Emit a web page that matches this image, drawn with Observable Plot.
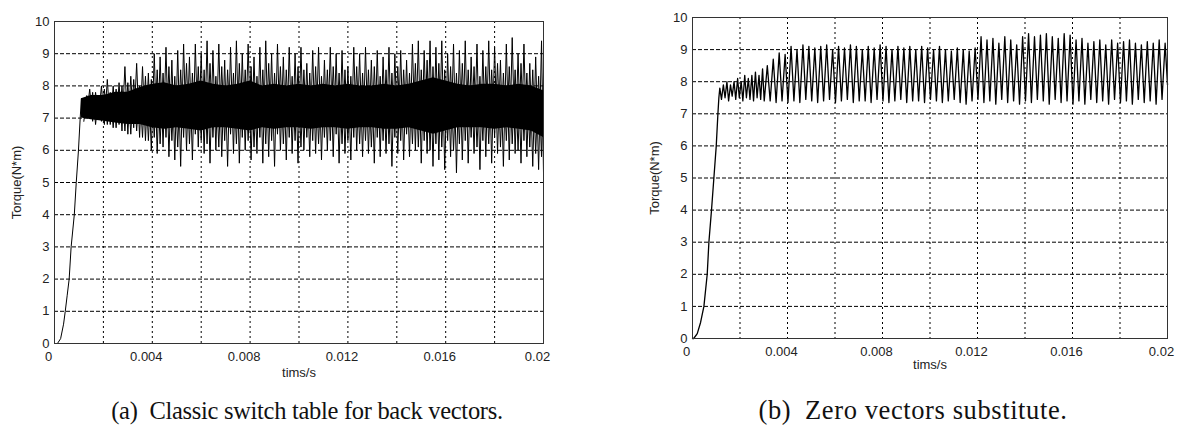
<!DOCTYPE html>
<html><head><meta charset="utf-8">
<script src="https://cdn.jsdelivr.net/npm/d3@7"></script>
<script src="https://cdn.jsdelivr.net/npm/@observablehq/plot@0.6"></script>
<style>
body{margin:0;background:#fff;}
#wrap{position:relative;width:1183px;height:426px;overflow:hidden;background:#fff}
.panel{position:absolute;top:0}
.cap{position:absolute;top:397px;line-height:27px;font-family:"Liberation Serif","Times New Roman",serif;color:#111;white-space:pre;transform:translateX(-50%)}
</style></head><body><div id="wrap"></div>
<script>
// ---- axes (time in ms, shown in s) ----
const xTicks = [0, 4, 8, 12, 16, 20];
const xGrid = [2, 4, 6, 8, 10, 12, 14, 16, 18];
const yTicks = [0, 1, 2, 3, 4, 5, 6, 7, 8, 9, 10];
const yGrid = [1, 2, 3, 4, 5, 6, 7, 8, 9];
const captions = ["(a)\u2002Classic switch table for back vectors.", "(b)\u2002Zero vectors substitute."];

// ---- panel (a): classic switch table ----
const riseTA = [0, 0.12, 0.25, 0.37, 0.44, 0.52, 0.60, 0.68, 0.81, 0.89, 0.98, 1.05, 1.10];
const riseVA = [0, 0, 0.15, 0.6, 1.0, 1.5, 2.0, 3.0, 4.0, 5.0, 6.0, 7.0, 7.6];
const tUpA = [1.20,1.44,1.68,1.92,2.16,2.40,2.64,2.88,3.12,3.36,3.60,3.84,4.08,4.32,4.56,4.80,5.04,5.28,5.52,5.76,6.00,6.24,6.48,6.72,6.96,7.20,7.44,7.68,7.92,8.16,8.40,8.64,8.88,9.12,9.36,9.60,9.84,10.08,10.32,10.56,10.80,11.04,11.28,11.52,11.76,12.00,12.24,12.48,12.72,12.96,13.20,13.44,13.68,13.92,14.16,14.40,14.64,14.88,15.12,15.36,15.60,15.84,16.08,16.32,16.56,16.80,17.04,17.28,17.52,17.76,18.00,18.24,18.48,18.72,18.96,19.20,19.44,19.68,19.92];
const hiA = [7.6,7.9,7.8,8.0,8.2,8.0,8.1,8.6,8.3,8.7,8.6,8.4,9.0,8.9,9.2,8.8,9.1,9.3,8.9,9.3,9.0,9.4,9.1,9.3,8.8,9.2,9.4,9.0,9.3,8.9,9.2,9.4,9.0,9.3,8.9,9.2,9.0,9.2,8.7,9.1,9.2,8.8,9.2,9.0,9.1,8.6,9.2,9.0,9.2,8.8,9.1,8.9,9.2,9.0,9.1,8.8,9.3,9.4,9.1,9.4,9.2,9.4,9.0,9.3,9.1,9.4,8.9,9.3,9.1,9.4,9.2,8.8,9.3,9.5,9.0,9.3,8.7,8.9,9.4];
const tDnA = [1.32,1.56,1.80,2.04,2.28,2.52,2.76,3.00,3.24,3.48,3.72,3.96,4.20,4.44,4.68,4.92,5.16,5.40,5.64,5.88,6.12,6.36,6.60,6.84,7.08,7.32,7.56,7.80,8.04,8.28,8.52,8.76,9.00,9.24,9.48,9.72,9.96,10.20,10.44,10.68,10.92,11.16,11.40,11.64,11.88,12.12,12.36,12.60,12.84,13.08,13.32,13.56,13.80,14.04,14.28,14.52,14.76,15.00,15.24,15.48,15.72,15.96,16.20,16.44,16.68,16.92,17.16,17.40,17.64,17.88,18.12,18.36,18.60,18.84,19.08,19.32,19.56,19.80,20.00];
const loA = [7.1,6.9,7.0,6.8,6.8,6.7,6.6,6.5,6.7,6.4,6.3,6.0,5.9,6.1,5.8,5.7,5.5,6.0,5.7,6.1,5.9,5.6,6.0,5.8,5.5,5.9,5.6,6.0,5.7,5.9,5.6,5.8,5.5,6.0,5.7,5.9,5.6,6.0,5.8,5.9,5.7,6.0,5.8,5.6,5.9,5.7,6.0,5.8,5.9,5.6,5.8,5.9,5.5,5.9,5.7,5.8,6.0,5.6,5.9,5.5,5.7,5.4,5.8,5.3,5.7,5.6,5.9,5.4,5.8,5.6,5.9,5.5,5.7,5.9,5.6,5.8,5.5,5.4,5.3];
// medium-amplitude teeth (up at tDnA times, down at tUpA times)
const hi2A = [7.7,7.8,7.7,7.9,7.8,7.9,8.0,8.1,8.2,8.0,8.3,8.2,8.5,8.4,8.6,8.3,8.5,8.7,8.4,8.6,8.5,8.7,8.3,8.6,8.5,8.4,8.7,8.5,8.6,8.3,8.5,8.7,8.4,8.6,8.5,8.3,8.6,8.5,8.4,8.6,8.3,8.5,8.6,8.4,8.5,8.3,8.6,8.4,8.5,8.6,8.3,8.5,8.4,8.6,8.5,8.4,8.7,8.5,8.8,8.6,8.7,8.5,8.6,8.4,8.7,8.5,8.6,8.3,8.6,8.5,8.7,8.4,8.6,8.5,8.7,8.4,8.5,8.3,8.4];
const lo2A = [6.9,7.0,6.8,6.9,6.8,6.7,6.8,6.6,6.5,6.6,6.4,6.3,6.4,6.2,6.4,6.3,6.1,6.4,6.2,6.5,6.3,6.2,6.4,6.1,6.3,6.5,6.2,6.4,6.3,6.1,6.4,6.2,6.3,6.5,6.2,6.4,6.3,6.1,6.4,6.3,6.2,6.4,6.3,6.5,6.2,6.3,6.4,6.2,6.3,6.1,6.4,6.3,6.2,6.4,6.3,6.5,6.2,6.1,6.3,6.0,6.2,6.1,6.3,6.0,6.2,6.3,6.4,6.1,6.3,6.2,6.4,6.1,6.3,6.2,6.0,6.3,6.1,5.9,5.8];
const coreTA = [1.1,1.5,2,2.5,3,3.5,4,4.5,5,5.5,6,6.5,7,7.5,8,8.5,9,9.5,10,10.5,11,11.5,12,12.5,13,13.5,14,14.5,15,15.5,16,16.5,17,17.5,18,18.5,19,19.5,20];
const coreHiA = [7.6,7.7,7.7,7.8,7.8,7.95,8.05,8.1,8.0,8.05,8.15,8.05,8.0,8.05,8.15,8.0,8.05,8.0,8.05,8.0,8.05,8.0,8.05,8.0,8.0,8.05,8.0,8.05,8.15,8.25,8.15,8.05,8.0,8.05,8.05,8.0,8.05,8.0,7.85];
const coreLoA = [7.0,6.95,6.9,6.85,6.8,6.8,6.7,6.65,6.7,6.65,6.6,6.7,6.7,6.65,6.6,6.7,6.65,6.7,6.7,6.65,6.7,6.7,6.65,6.7,6.7,6.65,6.65,6.7,6.6,6.5,6.6,6.7,6.7,6.7,6.65,6.7,6.65,6.6,6.4];

// ---- panel (b): zero vectors substitute ----
const riseTB = [0, 0.05, 0.20, 0.34, 0.48, 0.62, 0.69, 0.80, 0.90, 1.00, 1.07, 1.11];
const riseVB = [0, 0, 0.15, 0.5, 1.0, 2.0, 3.0, 4.0, 5.0, 6.0, 7.0, 7.5];
const tUpB = [1.15,1.30,1.45,1.60,1.75,1.90,2.05,2.20,2.35,2.50,2.65,2.80,2.95,3.15,3.40,3.65,3.90,4.15,4.40,4.65,4.90,5.15,5.40,5.65,5.90,6.15,6.40,6.65,6.90,7.15,7.40,7.65,7.90,8.15,8.40,8.65,8.90,9.15,9.40,9.65,9.90,10.15,10.40,10.65,10.90,11.15,11.40,11.65,11.90,12.15,12.40,12.65,12.90,13.15,13.40,13.65,13.90,14.15,14.40,14.65,14.90,15.15,15.40,15.65,15.90,16.15,16.40,16.65,16.90,17.15,17.40,17.65,17.90,18.15,18.40,18.65,18.90,19.15,19.40,19.65,19.90];
const hiB = [7.8,7.9,8.0,7.9,8.0,8.1,8.0,8.2,8.1,8.2,8.3,8.2,8.4,8.5,8.7,8.9,8.85,9.1,9.0,9.15,9.1,9.05,9.1,9.15,9.0,9.1,9.05,9.15,9.1,9.0,9.1,9.05,9.15,9.1,9.0,9.1,9.05,9.1,9.0,9.1,9.05,9.0,9.1,9.0,8.95,9.05,9.0,8.95,9.05,9.4,9.3,9.35,9.2,9.4,9.3,9.15,9.4,9.5,9.4,9.45,9.5,9.4,9.35,9.5,9.45,9.3,9.35,9.2,9.25,9.3,9.15,9.3,9.2,9.25,9.3,9.2,9.15,9.25,9.2,9.3,9.2];
const tDnB = [1.22,1.37,1.52,1.67,1.82,1.97,2.12,2.27,2.42,2.57,2.72,2.87,3.02,3.27,3.52,3.77,4.02,4.27,4.52,4.77,5.02,5.27,5.52,5.77,6.02,6.27,6.52,6.77,7.02,7.27,7.52,7.77,8.02,8.27,8.52,8.77,9.02,9.27,9.52,9.77,10.02,10.27,10.52,10.77,11.02,11.27,11.52,11.77,12.02,12.27,12.52,12.77,13.02,13.27,13.52,13.77,14.02,14.27,14.52,14.77,15.02,15.27,15.52,15.77,16.02,16.27,16.52,16.77,17.02,17.27,17.52,17.77,18.02,18.27,18.52,18.77,19.02,19.27,19.52,19.77,20.00];
const loB = [7.45,7.5,7.4,7.55,7.45,7.5,7.4,7.5,7.45,7.4,7.5,7.45,7.4,7.4,7.35,7.4,7.35,7.4,7.35,7.45,7.4,7.35,7.4,7.45,7.35,7.4,7.45,7.35,7.4,7.4,7.35,7.45,7.4,7.35,7.4,7.45,7.35,7.4,7.4,7.35,7.45,7.4,7.35,7.4,7.45,7.35,7.3,7.4,7.45,7.35,7.4,7.3,7.45,7.35,7.4,7.3,7.4,7.35,7.45,7.4,7.3,7.45,7.35,7.4,7.3,7.4,7.3,7.45,7.35,7.4,7.3,7.45,7.35,7.4,7.3,7.45,7.35,7.4,7.3,7.45,7.9];

// ---- build tables ----
function zigzag(tUp, hi, tDn, lo) {
  const z = tUp.map((t, i) => ({t, v: hi[i]})).concat(tDn.map((t, i) => ({t, v: lo[i]})));
  return z.sort((a, b) => a.t - b.t);
}
const pts = (T, V) => T.map((t, i) => ({t, v: V[i]}));
const dataA = pts(riseTA, riseVA).concat(zigzag(tUpA, hiA, tDnA, loA));
const dataA2 = zigzag(tDnA, hi2A, tUpA, lo2A);
const dataB = pts(riseTB, riseVB).concat(zigzag(tUpB, hiB, tDnB, loB));
const coreA = coreTA.map((t, i) => ({t, hi: coreHiA[i], lo: coreLoA[i]}));

const FONT = '"Liberation Sans", Arial, sans-serif';
function panel({width, height, ml, mr, mt, mb, lines, core, xlabOff, ylabOff, sw}) {
  const marks = [
    Plot.gridY(yGrid, {stroke: "#000", strokeOpacity: 1, strokeDasharray: "4,2"}),
    Plot.gridX(xGrid, {stroke: "#000", strokeOpacity: 1, strokeDasharray: "2,3"})
  ];
  if (core) marks.push(Plot.areaY(core, {x: "t", y1: "lo", y2: "hi", fill: "#000"}));
  lines.forEach(d => marks.push(Plot.line(d, {x: "t", y: "v", stroke: "#000", strokeWidth: sw})));
  marks.push(Plot.frame({stroke: "#333"}));
  marks.push(Plot.axisX(xTicks, {tickSize: 0, tickPadding: 8, dx: -6, tickFormat: d => String(d / 1000), label: "tims/s", labelAnchor: "center", labelArrow: "none", labelOffset: xlabOff}));
  marks.push(Plot.axisY(yTicks, {tickSize: 0, tickPadding: 5, label: "Torque(N*m)", labelAnchor: "center", labelArrow: "none", labelOffset: ylabOff}));
  return Plot.plot({
    width, height, marginLeft: ml, marginRight: mr, marginTop: mt, marginBottom: mb,
    x: {domain: [0, 20]}, y: {domain: [0, 10]},
    style: {fontFamily: FONT, fontSize: "13px", color: "#222", background: "transparent"},
    marks
  });
}

const wrap = document.getElementById("wrap");
const pA = panel({width: 560, height: 380, ml: 54, mr: 17, mt: 21, mb: 37, lines: [dataA, dataA2], core: coreA, xlabOff: 33, ylabOff: 43, sw: 1});
pA.classList.add("panel"); pA.style.left = "0px";
wrap.appendChild(pA);
const pB = panel({width: 583, height: 380, ml: 92, mr: 16, mt: 17, mb: 42, lines: [dataB], core: null, xlabOff: 30, ylabOff: 43, sw: 1.3});
pB.classList.add("panel"); pB.style.left = "600px";
wrap.appendChild(pB);

[[307, captions[0], 24.5, -0.3], [913, captions[1], 26.5, 0.6]].forEach(([x, txt, fs, ls]) => {
  const d = document.createElement("div");
  d.className = "cap"; d.style.left = x + "px"; d.textContent = txt;
  d.style.fontSize = fs + "px"; d.style.letterSpacing = ls + "px";
  wrap.appendChild(d);
});
</script></body></html>
